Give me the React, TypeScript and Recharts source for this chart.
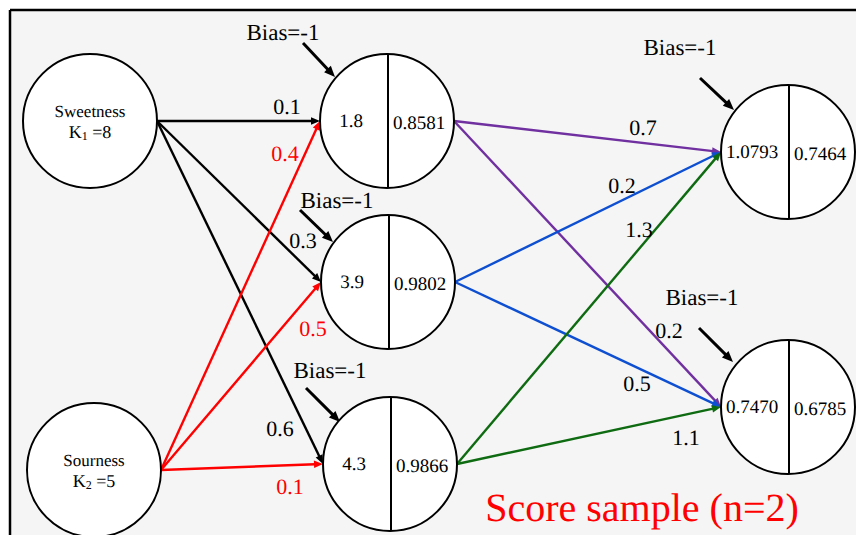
import { ReferenceArea, ReferenceLine, Scatter, ScatterChart, XAxis, YAxis } from "recharts";

const W = 856;
const H = 535;
const R = 67;
const SERIF = "Liberation Serif";

// nodes (centres in picture units)
const inputNodes = [
  { id: "sweet", x: 90, y: 121, name: "Sweetness", sub: "1", k: 8 },
  { id: "sour", x: 94, y: 470, name: "Sourness", sub: "2", k: 5 }
];
const hiddenNodes = [
  { id: "h1", x: 387, y: 121, net: "1.8", out: "0.8581" },
  { id: "h2", x: 388, y: 282, net: "3.9", out: "0.9802" },
  { id: "h3", x: 390, y: 464, net: "4.3", out: "0.9866" }
];
const outputNodes = [
  { id: "o1", x: 788, y: 152, net: "1.0793", out: "0.7464" },
  { id: "o2", x: 788, y: 407, net: "0.7470", out: "0.6785" }
];

// connections
const sweetEdges = [["sweet", "h1"], ["sweet", "h2"], ["sweet", "h3"]];
const sourEdges = [["sour", "h1"], ["sour", "h2"], ["sour", "h3"]];
const h1Edges = [["h1", "o1"], ["h1", "o2"]];
const h2Edges = [["h2", "o1"], ["h2", "o2"]];
const h3Edges = [["h3", "o1"], ["h3", "o2"]];

// weight labels
const sweetWeights = [
  { x: 287, y: 106, text: "0.1" },
  { x: 303, y: 240, text: "0.3" },
  { x: 280, y: 428, text: "0.6" }
];
const sourWeights = [
  { x: 285, y: 153, text: "0.4" },
  { x: 313, y: 328, text: "0.5" },
  { x: 290, y: 486, text: "0.1" }
];
const outWeights = [
  { x: 643, y: 127, text: "0.7" },
  { x: 622, y: 185, text: "0.2" },
  { x: 639, y: 229, text: "1.3" },
  { x: 669, y: 330, text: "0.2" },
  { x: 637, y: 383, text: "0.5" },
  { x: 686, y: 437, text: "1.1" }
];

// bias annotations
const biasLabels = [
  { x: 283, y: 32, text: "Bias=-1" },
  { x: 337, y: 200, text: "Bias=-1" },
  { x: 330, y: 370, text: "Bias=-1" },
  { x: 680, y: 47, text: "Bias=-1" },
  { x: 702, y: 297, text: "Bias=-1" }
];
const biasArrows = [
  { from: [303, 43], to: [335, 77] },
  { from: [300, 210], to: [333, 242] },
  { from: [306, 388], to: [340, 422] },
  { from: [700, 78], to: [734, 110] },
  { from: [699, 328], to: [733, 362] }
];

const titleLabel = [{ x: 642, y: 507, text: "Score sample (n=2)" }];

const allNodes = [...inputNodes, ...hiddenNodes, ...outputNodes];
const nodeById = (id: string) => allNodes.find((n) => n.id === id)!;

const segmentOf = ([a, b]: string[]) => {
  const s = nodeById(a);
  const t = nodeById(b);
  return [
    { x: s.x + R, y: s.y },
    { x: t.x - R, y: t.y }
  ];
};

const arrow = (color: string, width: number, head: number) => (p: any) => {
  const { x1, y1, x2, y2 } = p;
  const dx = x2 - x1;
  const dy = y2 - y1;
  const len = Math.hypot(dx, dy) || 1;
  const ux = dx / len;
  const uy = dy / len;
  const bx = x2 - ux * head;
  const by = y2 - uy * head;
  const hw = head * 0.42;
  const pts = `${x2},${y2} ${bx - uy * hw},${by + ux * hw} ${bx + uy * hw},${by - ux * hw}`;
  return (
    <g>
      <line x1={x1} y1={y1} x2={bx + ux} y2={by + uy} stroke={color} strokeWidth={width} />
      <polygon points={pts} fill={color} />
    </g>
  );
};

const textShape = (size: number, color: string) => (p: any) => (
  <text
    x={p.cx}
    y={p.cy}
    textAnchor="middle"
    dominantBaseline="central"
    fontSize={size}
    fill={color}
    fontFamily={SERIF}
    textRendering="geometricPrecision"
  >
    {p.payload.text}
  </text>
);

const InputNode = (p: any) => {
  const d = p.payload;
  return (
    <g fontFamily={SERIF} textRendering="geometricPrecision">
      <circle cx={p.cx} cy={p.cy} r={R} fill="#fff" stroke="#000" strokeWidth={2} />
      <text x={p.cx} y={p.cy - 10} textAnchor="middle" dominantBaseline="central" fontSize={17}>
        {d.name}
      </text>
      <text x={p.cx} y={p.cy + 11} textAnchor="middle" dominantBaseline="central" fontSize={18}>
        <tspan>K</tspan>
        <tspan dy={4} fontSize={12}>{d.sub}</tspan>
        <tspan dy={-4}>{` =${d.k}`}</tspan>
      </text>
    </g>
  );
};

const SplitNode = (p: any) => {
  const d = p.payload;
  return (
    <g fontFamily={SERIF} textRendering="geometricPrecision">
      <circle cx={p.cx} cy={p.cy} r={R} fill="#fff" stroke="#000" strokeWidth={2} />
      <line x1={p.cx + 1} y1={p.cy - R} x2={p.cx + 1} y2={p.cy + R} stroke="#000" strokeWidth={2} />
      <text x={p.cx - 36} y={p.cy} textAnchor="middle" dominantBaseline="central" fontSize={19}>
        {d.net}
      </text>
      <text x={p.cx + 32} y={p.cy + 2} textAnchor="middle" dominantBaseline="central" fontSize={19}>
        {d.out}
      </text>
    </g>
  );
};

const edgeGroups = [
  { edges: sweetEdges, color: "#000000" },
  { edges: sourEdges, color: "#ff0000" },
  { edges: h1Edges, color: "#7030a0" },
  { edges: h2Edges, color: "#0d4fd0" },
  { edges: h3Edges, color: "#0f6b12" }
];

export default function App() {
  return (
    <div style={{ position: "absolute", left: 0, top: 0, width: W, height: H, background: "#fff" }}>
      <ScatterChart width={W} height={H} margin={{ top: 0, right: 0, bottom: 0, left: 0 }}>
        <XAxis type="number" dataKey="x" domain={[0, W]} hide />
        <YAxis type="number" dataKey="y" domain={[0, H]} reversed hide />
        <ReferenceArea x1={11} x2={W} y1={11} y2={H} fill="#f5f5f5" fillOpacity={1} stroke="none" ifOverflow="visible" />
        <ReferenceLine segment={[{ x: 10, y: 10 }, { x: W, y: 10 }]} stroke="#000" strokeWidth={2.5} ifOverflow="visible" />
        <ReferenceLine segment={[{ x: 10, y: 10 }, { x: 10, y: H }]} stroke="#000" strokeWidth={2.5} ifOverflow="visible" />
        {edgeGroups.flatMap((g, gi) =>
          g.edges.map((e, i) => (
            <ReferenceLine
              key={`e-${gi}-${i}`}
              segment={segmentOf(e)}
              ifOverflow="visible"
              shape={arrow(g.color, 2.4, 9)}
            />
          ))
        )}
        {biasArrows.map((b, i) => (
          <ReferenceLine
            key={`b-${i}`}
            segment={[{ x: b.from[0], y: b.from[1] }, { x: b.to[0], y: b.to[1] }]}
            ifOverflow="visible"
            shape={arrow("#000", 3, 11)}
          />
        ))}
        <Scatter data={inputNodes} isAnimationActive={false} shape={InputNode} />
        <Scatter data={hiddenNodes} isAnimationActive={false} shape={SplitNode} />
        <Scatter data={outputNodes} isAnimationActive={false} shape={SplitNode} />
        <Scatter data={sweetWeights} isAnimationActive={false} shape={textShape(22, "#000")} />
        <Scatter data={sourWeights} isAnimationActive={false} shape={textShape(22, "#ff0000")} />
        <Scatter data={outWeights} isAnimationActive={false} shape={textShape(22, "#000")} />
        <Scatter data={biasLabels} isAnimationActive={false} shape={textShape(23, "#000")} />
        <Scatter data={titleLabel} isAnimationActive={false} shape={textShape(40, "#ff0000")} />
      </ScatterChart>
    </div>
  );
}
